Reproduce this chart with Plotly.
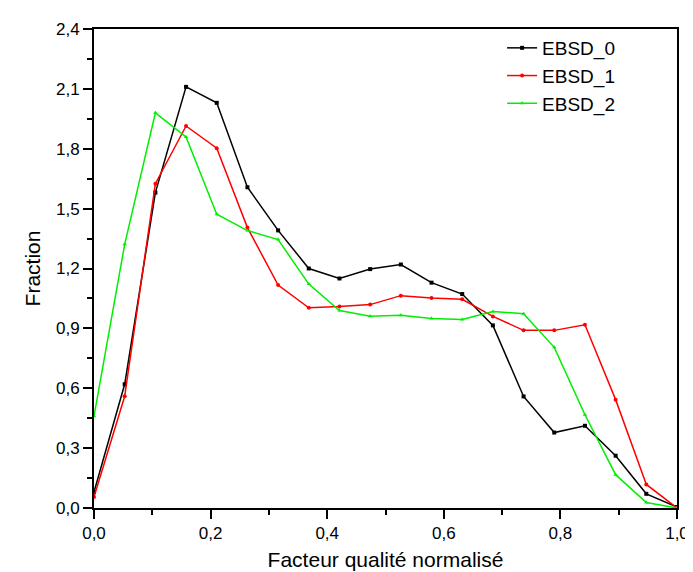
import plotly.graph_objects as go

x_vals = [i / 19 for i in range(20)]
ebsd_0 = [0.08, 0.62, 1.58, 2.11, 2.03, 1.607, 1.391, 1.20, 1.150, 1.197, 1.220, 1.129, 1.072,
          0.915, 0.559, 0.378, 0.412, 0.262, 0.071, 0.005]
ebsd_1 = [0.055, 0.56, 1.625, 1.914, 1.803, 1.405, 1.117, 1.003, 1.009, 1.019, 1.064, 1.052, 1.046,
          0.960, 0.890, 0.890, 0.918, 0.543, 0.118, 0.0]
ebsd_2 = [0.46, 1.321, 1.980, 1.859, 1.472, 1.390, 1.345, 1.122, 0.989, 0.961, 0.966, 0.950, 0.945,
          0.985, 0.973, 0.805, 0.467, 0.167, 0.027, 0.0]

names = ["EBSD_0", "EBSD_1", "EBSD_2"]
colors = ["#000000", "#ff0000", "#00ee00"]
symbols = ["square", "circle", "triangle-up"]
series = [ebsd_0, ebsd_1, ebsd_2]

fig = go.Figure()
for name, ys, col, sym in zip(names, series, colors, symbols):
    fig.add_trace(go.Scatter(
        x=x_vals, y=ys, name=name, mode="lines+markers",
        line=dict(color=col, width=1.5),
        marker=dict(symbol=sym, size=4, color=col),
    ))

font_family = "Liberation Sans, Arial, sans-serif"
axis_common = dict(
    showline=True, linecolor="black", linewidth=2, mirror=True,
    ticks="outside", ticklen=9, tickwidth=2, tickcolor="black",
    showgrid=False, zeroline=False,
    tickfont=dict(size=17, color="black", family=font_family),
)

fig.update_layout(
    width=693, height=572,
    margin=dict(l=86, r=15, t=19, b=71),
    paper_bgcolor="white", plot_bgcolor="white",
    separators=", ",
    font=dict(family=font_family, color="black"),
    xaxis=dict(range=[0, 1], dtick=0.2, tick0=0, tickformat=".1f",
               minor=dict(dtick=0.1, ticks="outside", ticklen=5, tickwidth=2, tickcolor="black"),
               title=dict(text="Facteur qualité normalisé", font=dict(size=21), standoff=10),
               **axis_common),
    yaxis=dict(range=[0, 2.4], dtick=0.3, tick0=0, tickformat=".1f",
               minor=dict(dtick=0.15, ticks="outside", ticklen=5, tickwidth=2, tickcolor="black"),
               title=dict(text="Fraction", font=dict(size=21), standoff=10),
               **axis_common),
    legend=dict(x=0.70, y=1.0, xanchor="left", yanchor="top",
                font=dict(size=19, color="black"), bgcolor="rgba(0,0,0,0)",
                tracegroupgap=0),
    showlegend=True,
)

fig.write_html("out.html")
